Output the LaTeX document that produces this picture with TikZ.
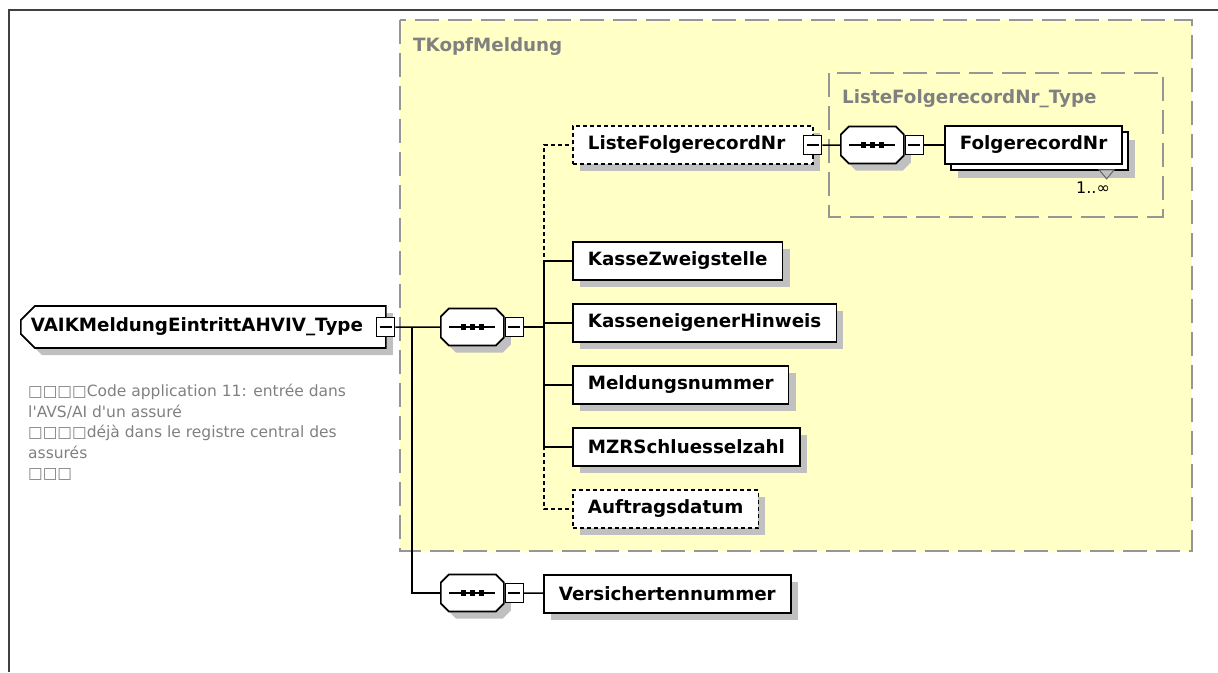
\documentclass[tikz,border=0pt]{standalone}
\usepackage{fontspec}
\usepackage{xcolor}
\usepackage{tikz}
\usetikzlibrary{shapes.misc,shadows}

\newfontfamily\diafont{DejaVu Sans}
\newcommand{\boldtxt}{\diafont\bfseries\fontsize{18.3}{20}\selectfont}

\definecolor{grpyellow}{RGB}{255,255,198}
\definecolor{grpgray}{RGB}{150,150,150}
\definecolor{txtgray}{RGB}{128,128,128}
\definecolor{shadowgray}{RGB}{192,192,192}

\tikzset{
  elembase/.style={draw, line width=1.7pt, fill=white, anchor=west,
    minimum height=38pt, inner xsep=15pt, font=\boldtxt},
  elem/.style={elembase,
    drop shadow={shadow xshift=7pt, shadow yshift=-7pt, fill=shadowgray, opacity=1}},
  optelem/.style={elem, dash pattern=on 4pt off 3pt},
  multielem/.style={elembase,
    drop shadow={shadow xshift=13pt, shadow yshift=-14pt, fill=shadowgray, opacity=1},
    copy shadow={shadow xshift=6pt, shadow yshift=-6pt, fill=white, draw=black, line width=1.7pt}},
  seqbox/.style={chamfered rectangle, chamfered rectangle xsep=4pt,
    chamfered rectangle ysep=4pt, draw, line width=1.7pt, fill=white, anchor=west,
    inner sep=0pt, minimum width=63pt, minimum height=37pt,
    text width=50pt, text height=25pt, text depth=0pt,
    drop shadow={shadow xshift=7pt, shadow yshift=-7pt, fill=shadowgray, opacity=1}},
  minus/.style={draw, line width=1.4pt, fill=white, minimum width=18pt,
    minimum height=19pt, inner sep=0pt,
    path picture={\draw[line width=1.4pt] ([xshift=3pt]path picture bounding box.west)
      -- ([xshift=-3pt]path picture bounding box.east);}},
  conn/.style={line width=1.5pt},
  optconn/.style={conn, dash pattern=on 4pt off 3pt},
  grpbox/.style={draw=grpgray, line width=2pt, dash pattern=on 24pt off 9pt},
  grplabel/.style={anchor=west, text=txtgray, inner sep=0pt, font=\boldtxt},
}

\begin{document}
\begin{tikzpicture}[x=1pt,y=-1pt,
  rootbox/.style={elem, chamfered rectangle, chamfered rectangle corners={north west,south west},
    chamfered rectangle xsep=7pt, chamfered rectangle ysep=7pt, inner xsep=3pt,
    minimum width=365pt, minimum height=42pt, text width=345pt, align=left},
  desc/.style={anchor=north west, inner sep=0pt, align=left, text=txtgray,
    font=\diafont\fontsize{15.5}{20.5}\selectfont}]
\useasboundingbox (0,0) rectangle (1218,672);
\draw[line width=1.5pt, draw=black!75] (9,672) -- (9,10) -- (1218,10);

% TKopfMeldung
\draw[grpbox, fill=grpyellow] (400,20) rectangle (1192,551);
\node[grplabel] (tkopf) at (413,47) {TKopfMeldung};
\draw[grpbox] (829,73) rectangle (1163,217);
\node[grplabel] (listetype) at (842,99) {ListeFolgerecordNr\_Type};

\node[rootbox] (root) at (20,327) {VAIKMeldungEintrittAHVIV\_Type};
\node[minus] (rootm) at ([xshift=-1pt]root.east) {};
\node[desc] (doc) at (28,384) {□□□□Code application 11: entrée dans\\l'AVS/AI d'un assuré\\□□□□déjà dans le registre central des\\assurés\\□□□};

\node[seqbox] (seq1) at (440,327) {};
\node[minus, anchor=west] (seq1m) at (seq1.east) {};
\node[seqbox] (seq2) at (440,593) {};
\node[minus, anchor=west] (seq2m) at (seq2.east) {};

\node[optelem, text width=210pt, inner xsep=15pt, align=left] (liste) at (572,145) {ListeFolgerecordNr};
\node[minus] (listem) at ([xshift=-1pt]liste.east) {};
\node[elem] (kasse) at (572,261) {KasseZweigstelle};
\node[elem] (hinweis) at (572,323) {KasseneigenerHinweis};
\node[elem] (meld) at (572,385) {Meldungsnummer};
\node[elem] (mzr) at (572,447) {MZRSchluesselzahl};
\node[optelem] (auft) at (572,509) {Auftragsdatum};
\node[elem] (versnr) at (543,594) {Versichertennummer};

\node[seqbox] (seq3) at (840,145) {};
\node[minus, anchor=west] (seq3m) at (seq3.east) {};
\node[multielem] (folge) at (944,145) {FolgerecordNr};
\draw[draw=black!60, fill=shadowgray, line width=1pt] ([xshift=-24pt,yshift=-5pt]folge.south east)
  -- ++(15,0) -- ++(-7.5,9) -- cycle;
\node[font=\diafont\fontsize{16}{18}\selectfont] (card) at (1093,188) {1..∞};

% sequence symbols
\foreach \s in {seq1,seq2,seq3} {
  \draw[conn] ([xshift=-23pt]\s.center) -- ([xshift=23pt]\s.center);
  \foreach \d in {-9,0,9}
    \fill ([xshift=\d pt]\s.center) +(-2.7,-2.7) rectangle +(2.7,2.7);
}

\coordinate (rj) at (412,327);
\coordinate (bj) at (544,327);
\draw[conn] (rootm) -- (seq1);
\draw[conn] (rj) |- (seq2);
\draw[conn] (seq2m) -- (versnr);
\draw[conn] (seq1m) -- (bj);
\foreach \n in {kasse,hinweis,meld,mzr}
  \draw[conn] (bj) |- (\n.west);
\draw[optconn] (bj) |- (liste.west);
\draw[optconn] (bj) |- (auft.west);
\draw[conn] (listem) -- (seq3);
\draw[conn] (seq3m) -- (folge);

\end{tikzpicture}
\end{document}
